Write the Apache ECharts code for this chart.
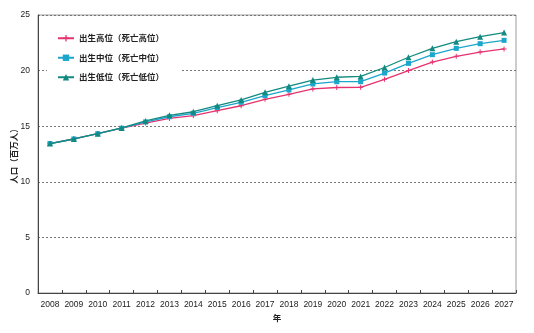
<!DOCTYPE html>
<html>
<head>
<meta charset="utf-8">
<script src="https://cdn.jsdelivr.net/npm/echarts@6/dist/echarts.min.js"></script>
<style>
  html, body { margin: 0; padding: 0; background: #fff; }
  #chart { width: 534px; height: 333px; }
</style>
</head>
<body>
<div id="chart"></div>
<script>
// Population projection (millions), by birth/death assumption
const years = ['2008','2009','2010','2011','2012','2013','2014','2015','2016','2017',
               '2018','2019','2020','2021','2022','2023','2024','2025','2026','2027'];
const seriesNames = ['出生高位（死亡高位）', '出生中位（死亡中位）', '出生低位（死亡低位）'];
const highBirth = [13.44, 13.85, 14.33, 14.82, 15.28, 15.70, 15.95, 16.40, 16.84, 17.42,
                   17.87, 18.35, 18.48, 18.50, 19.22, 20.00, 20.77, 21.28, 21.67, 21.95];
const midBirth  = [13.44, 13.85, 14.33, 14.82, 15.38, 15.85, 16.16, 16.68, 17.15, 17.75,
                   18.26, 18.80, 19.00, 19.00, 19.78, 20.65, 21.43, 22.00, 22.42, 22.72];
const lowBirth  = [13.44, 13.85, 14.33, 14.84, 15.47, 15.98, 16.30, 16.85, 17.36, 18.05,
                   18.60, 19.15, 19.40, 19.48, 20.28, 21.20, 22.00, 22.60, 23.05, 23.42];
const yTicks = { min: 0, max: 25, interval: 5 };

const colors = ['#e5336d', '#1ba6cc', '#128a80'];
const plusPath = 'path://M4,0L6,0L6,4L10,4L10,6L6,6L6,10L4,10L4,6L0,6L0,4L4,4Z';
const symbols = [plusPath, 'rect', 'triangle'];
const symbolSizes = [5, 5, 6];
const values = [highBirth, midBirth, lowBirth];

const numFont = '"Liberation Sans", Arial, sans-serif';
const cjkFont = '"Noto Sans CJK JP", sans-serif';

const chart = echarts.init(document.getElementById('chart'), null, { renderer: 'canvas' });
chart.setOption({
  animation: false,
  backgroundColor: '#fff',
  color: colors,
  grid: {
    left: 38, right: 18, top: 15, bottom: 40,
    outerBoundsMode: 'none',
    containLabel: false,
    show: true, borderColor: '#9a9a9a', borderWidth: 1, backgroundColor: 'transparent'
  },
  legend: {
    orient: 'vertical',
    left: 47, top: 28,
    backgroundColor: '#fff',
    padding: [6, 16, 6, 10],
    itemGap: 11,
    itemWidth: 16, itemHeight: 8,
    textStyle: { fontSize: 8.5, color: '#222', fontFamily: cjkFont, fontWeight: 'bold' },
    data: seriesNames
  },
  xAxis: {
    type: 'category',
    data: years,
    boundaryGap: true,
    name: '年',
    nameLocation: 'middle',
    nameGap: 21,
    nameMoveOverlap: false,
    nameTextStyle: { fontSize: 8.5, color: '#222', fontFamily: cjkFont, fontWeight: 'bold' },
    axisLine: { lineStyle: { color: '#444', width: 1 } },
    axisTick: { show: true, inside: true, length: 3, lineStyle: { color: '#444' } },
    axisLabel: { fontSize: 8.5, color: '#222', margin: 7, interval: 0, fontFamily: numFont },
    splitLine: { show: false }
  },
  yAxis: {
    type: 'value',
    min: yTicks.min, max: yTicks.max, interval: yTicks.interval,
    name: '人口（百万人）',
    nameLocation: 'middle',
    nameGap: 20,
    nameRotate: 90,
    nameMoveOverlap: false,
    nameTextStyle: { fontSize: 8.5, color: '#222', fontFamily: cjkFont, fontWeight: 'bold' },
    axisLine: { show: true, lineStyle: { color: '#444', width: 1 } },
    axisTick: { show: false },
    axisLabel: { fontSize: 8.5, color: '#222', margin: 8, fontFamily: numFont },
    splitLine: { show: true, lineStyle: { color: '#777', type: [2, 2], width: 1 } }
  },
  series: seriesNames.map((name, i) => ({
    name,
    type: 'line',
    data: values[i],
    symbol: symbols[i],
    symbolSize: symbolSizes[i],
    showAllSymbol: true,
    lineStyle: { width: 1.3, color: colors[i] },
    itemStyle: { color: colors[i] },
    z: 3 + i
  }))
});
</script>
</body>
</html>
